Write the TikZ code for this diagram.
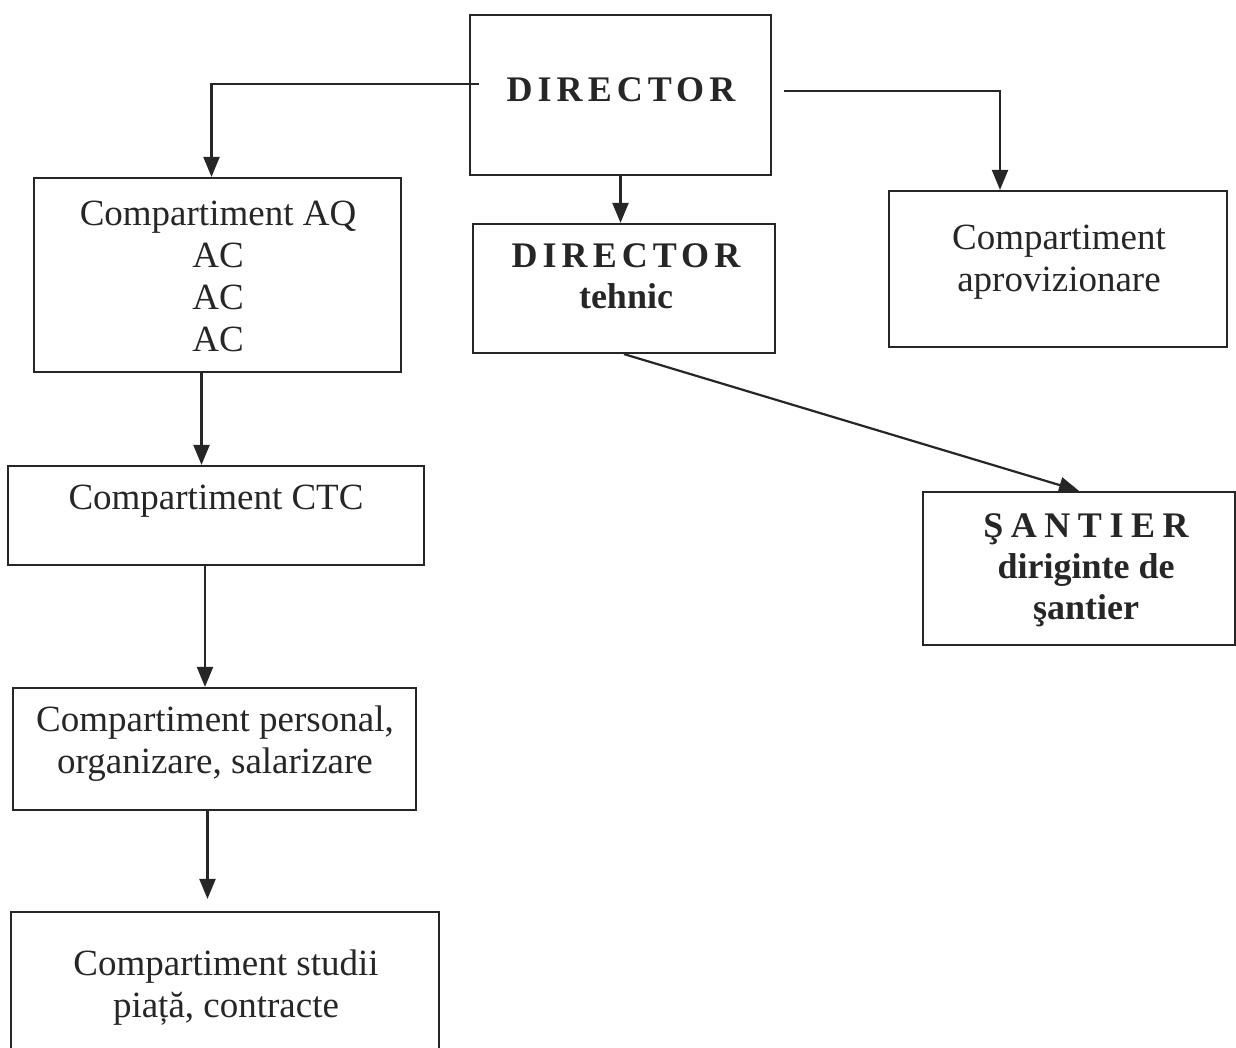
\documentclass[tikz,border=0pt]{standalone}
\usepackage{fontspec}
\setmainfont{Liberation Serif}
\newfontfamily\spcdir[LetterSpace=14]{Liberation Serif}
\newfontfamily\spcsan[LetterSpace=21]{Liberation Serif}
\usetikzlibrary{arrows.meta,fit}
\begin{document}
\begin{tikzpicture}[x=0.5pt,y=-0.5pt,
  box/.style={draw=black!85,line width=1.1pt,inner sep=0pt,rectangle},
  txt/.style={align=center,inner sep=0pt,text=black!85,font=\fontsize{18.5}{21}\selectfont},
  btxt/.style={align=center,inner sep=0pt,text=black!85,font=\fontsize{18}{20.5}\selectfont\bfseries},
  arr/.style={draw=black!85,line width=1.1pt,-{Triangle[length=10pt,width=8pt]}}]
\useasboundingbox (0,0) rectangle (1236,1048);
\clip (0,0) rectangle (1236,1048);
% boxes
\node[box,fit={(470,15)(771,175)}] (dir) {};
\node[box,fit={(34,178)(401,372)}] (aq) {};
\node[box,fit={(473,224)(775,353)}] (dt) {};
\node[box,fit={(889,191)(1227,347)}] (ap) {};
\node[box,fit={(923,492)(1235,645)}] (san) {};
\node[box,fit={(8,466)(424,565)}] (ctc) {};
\node[box,fit={(13,688)(416,810)}] (pers) {};
\node[box,fit={(11,912)(439,1070)}] (stud) {};
% texts
\node[btxt] (dirt) at (621,90) {\spcdir\bfseries DIRECTOR};
\node[txt] (aqt) at (218,276) {Compartiment AQ\\AC\\AC\\AC};
\node[btxt] (dtt) at (626,276) {{\spcdir\bfseries DIRECTOR}\\tehnic};
\node[txt] (apt) at (1059,262) {Compartiment\\aprovizionare};
\node[btxt] (sant) at (1086,570) {{\spcsan\bfseries ŞANTIER}\\diriginte de\\şantier};
\node[txt] (ctct) at (216,501) {Compartiment CTC};
\node[txt] (perst) at (215,744) {Compartiment personal,\\organizare, salarizare};
\node[txt] (studt) at (226,988) {Compartiment studii\\piață, contracte};
% connectors
\draw[arr] ([yshift=5.5pt,xshift=5pt]dir.west) -| ([xshift=-3pt]aq.north);
\draw[arr] ([yshift=2pt,xshift=6pt]dir.east) -| ([xshift=-29pt]ap.north);
\draw[arr] (dir.south) -- (dir.south |- dt.north);
\draw[arr] (dt.south) -- (san.north);
\draw[arr] ([xshift=-8pt]aq.south) -- ([xshift=-8pt]aq.south |- ctc.north);
\draw[arr] ([xshift=-5.5pt]ctc.south) -- ([xshift=-5.5pt]ctc.south |- pers.north);
\draw[arr,shorten >=6pt] ([xshift=-3.5pt]pers.south) -- ([xshift=-3.5pt]pers.south |- stud.north);
\end{tikzpicture}
\end{document}
